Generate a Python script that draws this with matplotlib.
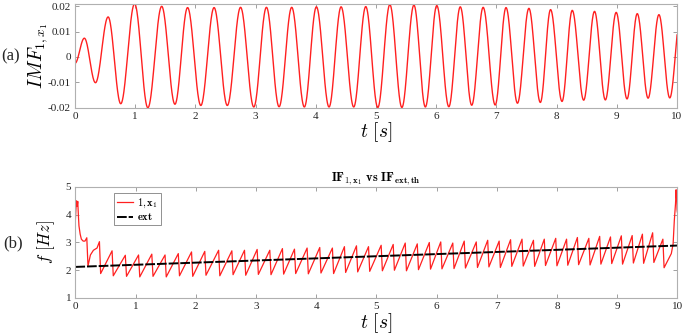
import matplotlib
matplotlib.use("Agg")
import matplotlib.pyplot as plt
import numpy as np

plt.rcParams["font.family"] = ["Liberation Serif", "DejaVu Serif"]
plt.rcParams["mathtext.fontset"] = "cm"

# (a) IMF_{1,x1}: extrema (t [s], amplitude)
imf_t = [0.0, 0.155, 0.34, 0.55, 0.76, 0.99, 1.21, 1.44, 1.66, 1.87, 2.09,
         2.31, 2.53, 2.75, 2.97, 3.18, 3.39, 3.60, 3.81, 4.01, 4.22, 4.42,
         4.63, 4.83, 5.03, 5.23, 5.43, 5.63, 5.82, 6.01, 6.21, 6.40, 6.59,
         6.78, 6.98, 7.16, 7.35, 7.54, 7.73, 7.90, 8.09, 8.26, 8.45, 8.63,
         8.81, 8.99, 9.17, 9.34, 9.52, 9.70, 9.88, 10.06]
imf_v = [-0.0025, 0.0074, -0.0102, 0.0158, -0.0185, 0.0210, -0.0201, 0.0200,
         -0.0187, 0.0195, -0.0192, 0.0195, -0.0192, 0.0196, -0.0198, 0.0196,
         -0.0197, 0.0196, -0.0198, 0.0198, -0.0198, 0.0198, -0.0198, 0.0199,
         -0.0200, 0.0207, -0.0200, 0.0205, -0.0198, 0.0203, -0.0197, 0.0198,
         -0.0191, 0.0196, -0.0190, 0.0195, -0.0183, 0.0192, -0.0180, 0.0187,
         -0.0176, 0.0184, -0.0171, 0.0180, -0.0170, 0.0176, -0.0166, 0.0171,
         -0.0163, 0.0167, -0.0162, 0.0165]

# (b) instantaneous frequency, transient at the start
if_head_t = [0.0, 0.01, 0.02, 0.03, 0.04, 0.05, 0.06, 0.08, 0.10, 0.13,
             0.16, 0.19, 0.21, 0.25, 0.30, 0.36, 0.40, 0.42]
if_head_f = [3.80, 4.20, 4.50, 4.30, 4.48, 4.00, 3.60, 3.30, 3.12, 3.05,
             3.05, 3.17, 2.15, 2.55, 2.72, 2.80, 3.03, 1.88]
# sawtooth teeth: time of each peak, peak value, value right after the drop
tooth_t = [0.61, 0.83, 1.05, 1.27, 1.49, 1.71, 1.93, 2.15, 2.38, 2.60,
           2.81, 3.02, 3.23, 3.44, 3.64, 3.85, 4.06, 4.27, 4.47, 4.67,
           4.87, 5.08, 5.28, 5.48, 5.68, 5.88, 6.07, 6.27, 6.46, 6.66,
           6.85, 7.04, 7.23, 7.42, 7.61, 7.79, 7.98, 8.16, 8.34, 8.53,
           8.71, 8.89, 9.07, 9.25, 9.42, 9.59, 9.76]
tooth_hi = [2.70, 2.54, 2.55, 2.58, 2.55, 2.60, 2.66, 2.68, 2.72, 2.70,
            2.72, 2.75, 2.72, 2.78, 2.76, 2.80, 2.82, 2.80, 2.85, 2.88,
            2.85, 2.90, 2.93, 2.98, 2.95, 3.00, 3.02, 2.98, 3.05, 3.02,
            3.08, 3.05, 3.10, 3.12, 3.08, 3.12, 3.15, 3.12, 3.18, 3.15,
            3.22, 3.20, 3.24, 3.25, 3.30, 3.35, 3.12]
tooth_lo = [1.80, 1.78, 1.76, 1.78, 1.76, 1.80, 1.78, 1.82, 1.80, 1.84,
            1.82, 1.85, 1.84, 1.86, 1.88, 1.87, 1.90, 1.88, 1.92, 1.94,
            1.96, 1.98, 2.00, 1.98, 2.02, 2.04, 2.05, 2.06, 2.08, 2.10,
            2.12, 2.10, 2.14, 2.15, 2.14, 2.17, 2.16, 2.18, 2.20, 2.19,
            2.22, 2.24, 2.22, 2.26, 2.25, 2.28, 2.09]
# end transient
if_tail_t = [9.90, 9.93, 9.95, 9.97, 9.98, 9.985, 9.99, 9.995, 10.0]
if_tail_f = [2.60, 2.95, 3.80, 4.40, 4.90, 4.60, 4.80, 4.20, 4.10]

# theoretical IF of the excitation (straight line)
ext_t = [0.0, 10.0]
ext_f = [2.12, 2.89]


def smooth_through_extrema(t, v, n=40):
    xs, ys = [], []
    for i in range(len(t) - 1):
        s = np.linspace(0, 1, n, endpoint=False)
        xs.append(t[i] + (t[i + 1] - t[i]) * s)
        ys.append(v[i] + (v[i + 1] - v[i]) * (1 - np.cos(np.pi * s)) / 2)
    xs.append([t[-1]])
    ys.append([v[-1]])
    return np.concatenate(xs), np.concatenate(ys)


def style_axes(ax):
    for sp in ax.spines.values():
        sp.set_color("#b0b0b0")
        sp.set_linewidth(0.8)
    ax.tick_params(direction="in", length=3, width=0.6, color="#909090",
                   labelsize=8, labelcolor="#262626", top=True, right=True,
                   pad=3)


fig = plt.figure(figsize=(6.85, 3.36), dpi=100)

# (a)
ax1 = fig.add_axes([0.1095, 0.680, 0.8788, 0.308])
tx, vy = smooth_through_extrema(imf_t, imf_v)
ax1.plot(tx, vy, color="#ff2020", lw=1.0)
ax1.set_xlim(0, 10)
ax1.set_ylim(-0.02, 0.0209)
ax1.set_xticks(range(0, 11))
ax1.set_yticks([-0.02, -0.01, 0, 0.01, 0.02])
ax1.set_yticklabels(["-0.02", "-0.01", "0", "0.01", "0.02"])
style_axes(ax1)
ax1.set_xlabel(r"$t\ [s]$", fontsize=14, labelpad=0)
ax1.set_ylabel(r"$IMF_{1,x_1}$", fontsize=14)
ax1.yaxis.set_label_coords(-0.042, 0.5)
fig.text(0.002, 0.833, "(a)", fontsize=12, va="center", color="#262626")

# (b)
ax2 = fig.add_axes([0.110, 0.1131, 0.8788, 0.3304])
ft, ff = list(if_head_t), list(if_head_f)
for t, hi, lo in zip(tooth_t, tooth_hi, tooth_lo):
    ft += [t, t + 0.02]
    ff += [hi, lo]
ft += if_tail_t
ff += if_tail_f
ax2.plot(ft, ff, color="#ff2020", lw=0.9, label=r"$\mathbf{1, x_1}$")
ax2.plot(ext_t, ext_f, color="black", lw=1.4, ls=(0, (5, 1)),
         label=r"$\mathbf{ext}$")
ax2.set_xlim(0, 10)
ax2.set_ylim(1, 5)
ax2.set_xticks(range(0, 11))
ax2.set_yticks([1, 2, 3, 4, 5])
style_axes(ax2)
ax2.set_xlabel(r"$t\ [s]$", fontsize=14, labelpad=0)
ax2.set_ylabel(r"$f\ [Hz]$", fontsize=12)
ax2.yaxis.set_label_coords(-0.03, 0.5)
ax2.set_title(r"$\mathbf{IF_{1,x_1}\ vs\ IF_{ext,th}}$", fontsize=9, pad=4)
leg = ax2.legend(loc="upper left", bbox_to_anchor=(0.064, 0.945),
                 borderaxespad=0, fontsize=7.5, handlelength=1.5,
                 handletextpad=0.4, borderpad=0.3, labelspacing=0.15,
                 fancybox=False, framealpha=1)
leg.get_frame().set_edgecolor("#808080")
leg.get_frame().set_linewidth(0.6)
fig.text(0.005, 0.277, "(b)", fontsize=12, va="center", color="#262626")

fig.savefig("out.png", dpi=100)
